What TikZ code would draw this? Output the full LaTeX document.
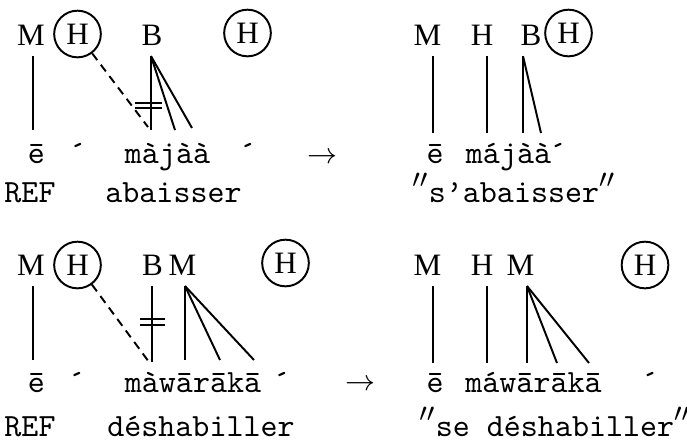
\documentclass[tikz,border=0pt]{standalone}
\usepackage{fontspec}
\newfontfamily\tonefont{Liberation Serif}
\usepackage{tikz}
\usetikzlibrary{positioning}

\newcommand{\dprime}{{\large$''$}}

\begin{document}
\begin{tikzpicture}[
  x=0.3086pt, y=-0.3086pt,
  tone/.style={font=\tonefont\fontsize{9.6}{11}\selectfont, inner xsep=1pt, inner ysep=3.2pt,
               anchor=base},
  floattone/.style={draw, circle, line width=0.6pt, minimum size=14.4pt, inner sep=0pt,
                    font=\tonefont\fontsize{9.6}{11}\selectfont},
  seg/.style={font=\ttfamily, inner sep=0pt, anchor=base},
  arr/.style={font=\small, inner sep=0pt, anchor=base},
  assoc/.style={line width=0.6pt},
  delink/.style={line width=0.6pt, dash pattern=on 2.6pt off 1.8pt},
  bar/.style={line width=0.6pt}]
  \useasboundingbox (0,0) rectangle (687,439);

  % ---- abaisser: underlying form
  \node[tone] (m1) at (31,45) {M};
  \node[floattone] (h1) at (77.5,34) {H};
  \node[tone] (b1) at (152,45) {B};
  \node[floattone] (h2) at (247.5,33) {H};
  \node[seg] (s1) at (36.5,163) {ē};
  \node[seg] (s2) at (78,163) {´};
  \node[seg] (s3) at (167.5,163) {màjàà};
  \node[seg] (s4) at (248,163) {´};
  \node[arr] (to1) at (322,163) {$\rightarrow$};
  \node[seg] (r1) at (30,202) {REF};
  \node[seg] (g1) at (173.5,202) {abaisser};
  \coordinate (m1e) at (33,130);
  \coordinate (h1e) at (148,127);
  \coordinate (b1a) at (151,130);
  \coordinate (b1b) at (175,130);
  \coordinate (b1c) at (192,128);
  \draw[assoc] (m1.south -| m1e) -- (m1e);
  \draw[delink] (h1) -- (h1e);
  \foreach \e in {b1a,b1b,b1c}
    \draw[assoc] (b1.south -| b1a) -- (\e);
  \draw[bar] (135,103) -- (162,103);
  \draw[bar] (135,108) -- (162,108);

  % ---- abaisser: surface form
  \node[tone] (m2) at (427.5,45) {M};
  \node[tone] (h3) at (482,45) {H};
  \node[tone] (b2) at (531,45) {B};
  \node[floattone] (h4) at (568.5,33) {H};
  \node[seg] (s5) at (435,163) {ē};
  \node[seg] (s6) at (508.5,163) {májàà};
  \node[seg] (s7) at (558,163) {´};
  \node[seg] (g2) at (514,202) {\dprime s’abaisser\dprime};
  \coordinate (m2e) at (433,133);
  \coordinate (h3e) at (487,133);
  \coordinate (b2a) at (523,133);
  \coordinate (b2b) at (541,133);
  \draw[assoc] (m2.south -| m2e) -- (m2e);
  \draw[assoc] (h3.south -| h3e) -- (h3e);
  \foreach \e in {b2a,b2b}
    \draw[assoc] (b2.south -| b2a) -- (\e);

  % ---- deshabiller: underlying form
  \node[tone] (m3) at (31,275) {M};
  \node[floattone] (h5) at (77.5,265) {H};
  \node[tone] (b3) at (152.5,275) {B};
  \node[tone] (m4) at (182.5,275) {M};
  \node[floattone] (h6) at (285.5,263) {H};
  \node[seg] (s8) at (36.5,392) {ē};
  \node[seg] (s9) at (77,392) {´};
  \node[seg] (s10) at (193,392) {màwārākā};
  \node[seg] (s11) at (282,392) {´};
  \node[arr] (to2) at (360,390) {$\rightarrow$};
  \node[seg] (r2) at (30,436) {REF};
  \node[seg] (g3) at (201,436) {déshabiller};
  \coordinate (m3e) at (33,360);
  \coordinate (h5e) at (149,362);
  \coordinate (b3e) at (152,362);
  \coordinate (m4a) at (185,360);
  \coordinate (m4b) at (220,360);
  \coordinate (m4c) at (254,360);
  \draw[assoc] (m3.south -| m3e) -- (m3e);
  \draw[delink] (h5) -- (h5e);
  \draw[assoc] (b3.south -| b3e) -- (b3e);
  \foreach \e in {m4a,m4b,m4c}
    \draw[assoc] (m4.south -| m4a) -- (\e);
  \draw[bar] (140,319) -- (165,319);
  \draw[bar] (140,325) -- (165,325);

  % ---- deshabiller: surface form
  \node[tone] (m5) at (427.5,275) {M};
  \node[tone] (h7) at (482,275) {H};
  \node[tone] (m6) at (520.5,275) {M};
  \node[floattone] (h8) at (645,265) {H};
  \node[seg] (s12) at (435,392) {ē};
  \node[seg] (s13) at (533.5,392) {máwārākā};
  \node[seg] (s14) at (650,392) {´};
  \node[seg] (g4) at (555,436) {\dprime se déshabiller\dprime};
  \coordinate (m5e) at (433,363);
  \coordinate (h7e) at (487,363);
  \coordinate (m6a) at (527,363);
  \coordinate (m6b) at (557,363);
  \coordinate (m6c) at (589,363);
  \draw[assoc] (m5.south -| m5e) -- (m5e);
  \draw[assoc] (h7.south -| h7e) -- (h7e);
  \foreach \e in {m6a,m6b,m6c}
    \draw[assoc] (m6.south -| m6a) -- (\e);
\end{tikzpicture}
\end{document}
